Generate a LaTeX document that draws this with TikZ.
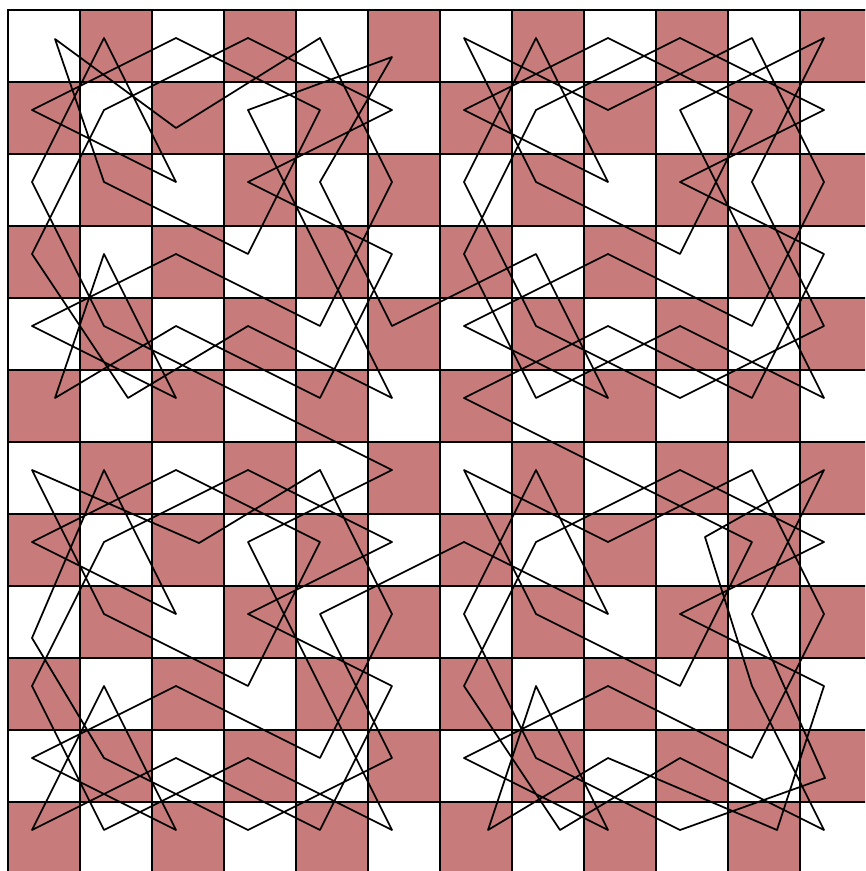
\documentclass[tikz,border=0pt]{standalone}
\definecolor{boardred}{RGB}{200,123,123}
\tikzset{tourline/.style={line width=1.3pt,black,line join=round,line cap=round},
  gridline/.style={line width=1.5pt,black}}
\begin{document}
\begin{tikzpicture}[x=0.75pt,y=-0.75pt]
\useasboundingbox (0,0) rectangle (865,871);
\begin{scope}
\clip (0,0) rectangle (865,871);
\fill[white] (0,0) rectangle (865,871);
\foreach \r in {0,...,11}{\foreach \c in {0,...,11}{
  \pgfmathtruncatemacro{\pty}{mod(\r+\c,2)}
  \ifnum\pty=1 \fill[boardred] (8+72*\c,10+72*\r) rectangle ++(72,72);\fi
}}
\foreach \k in {0,...,12}{
  \draw[gridline] (8+72*\k,10) -- (8+72*\k,880);
  \draw[gridline] (8,10+72*\k) -- (880,10+72*\k);
}
\draw[line width=2.2pt] (8,880) -- (8,10) -- (880,10);
\foreach \c in {0,...,11}{\foreach \r in {0,...,11}{
  \coordinate (v\c-\r) at ({32+72*\c},{38+72*\r});
}}
% displaced vertices
\coordinate (v0-0) at (55,39);
\coordinate (v5-0) at (392,57);
\coordinate (v2-1) at (176,128);
\coordinate (v0-5) at (55,398);
\coordinate (v1-5) at (128,398);
\coordinate (v2-7) at (199,543);
\coordinate (v0-8) at (32,638);
\coordinate (v9-7) at (705,537);
\coordinate (v11-10) at (825,778);
\coordinate (v6-11) at (488,830);
\coordinate (v7-11) at (560,830);
\coordinate (v10-11) at (777,830);
% the closed tour
\draw[tourline]
 % top-left quarter
 (v5-4) -- (v4-2) -- (v5-0) -- (v3-1) -- (v4-3) -- (v5-5) -- (v3-4) -- (v1-5) -- (v0-3)
 -- (v1-1) -- (v3-0) -- (v5-1) -- (v3-2) -- (v5-3) -- (v4-5) -- (v2-4) -- (v0-5) -- (v1-3)
 -- (v2-5) -- (v0-4) -- (v2-3) -- (v4-4) -- (v5-2) -- (v4-0) -- (v2-1) -- (v0-0) -- (v1-2)
 -- (v3-3) -- (v4-1) -- (v2-0) -- (v0-1) -- (v2-2) -- (v1-0) -- (v0-2) -- (v1-4) -- (v3-5)
 % bottom-left quarter
 -- (v5-6) -- (v3-7) -- (v4-9) -- (v5-11) -- (v3-10) -- (v1-11) -- (v0-9) -- (v1-7) -- (v3-6)
 -- (v5-7) -- (v3-8) -- (v5-9) -- (v4-11) -- (v2-10) -- (v0-11) -- (v1-9) -- (v2-11) -- (v0-10)
 -- (v2-9) -- (v4-10) -- (v5-8) -- (v4-6) -- (v2-7) -- (v0-6) -- (v1-8) -- (v3-9) -- (v4-7)
 -- (v2-6) -- (v0-7) -- (v2-8) -- (v1-6) -- (v0-8) -- (v1-10) -- (v3-11) -- (v5-10) -- (v4-8)
 % bottom-right quarter
 -- (v6-7) -- (v8-8) -- (v7-6) -- (v6-8) -- (v7-10) -- (v9-11) -- (v11-10) -- (v10-8) -- (v11-6)
 -- (v9-7) -- (v10-9) -- (v11-11) -- (v9-10) -- (v7-11) -- (v6-9) -- (v7-7) -- (v9-6) -- (v11-7)
 -- (v9-8) -- (v11-9) -- (v10-11) -- (v8-10) -- (v6-11) -- (v7-9) -- (v8-11) -- (v6-10) -- (v8-9)
 -- (v10-10) -- (v11-8) -- (v10-6) -- (v8-7) -- (v6-6) -- (v7-8) -- (v9-9) -- (v10-7) -- (v8-6)
 % top-right quarter
 -- (v6-5) -- (v8-4) -- (v10-5) -- (v11-3) -- (v9-2) -- (v11-1) -- (v9-0) -- (v7-1) -- (v6-3)
 -- (v7-5) -- (v9-4) -- (v11-5) -- (v10-3) -- (v9-1) -- (v11-0) -- (v10-2) -- (v11-4) -- (v9-5)
 -- (v7-4) -- (v6-2) -- (v7-0) -- (v8-2) -- (v6-1) -- (v8-0) -- (v10-1) -- (v9-3) -- (v7-2)
 -- (v6-0) -- (v8-1) -- (v10-0) -- (v11-2) -- (v10-4) -- (v8-3) -- (v6-4) -- (v8-5) -- (v7-3)
 -- cycle;
\end{scope}
\end{tikzpicture}
\end{document}
